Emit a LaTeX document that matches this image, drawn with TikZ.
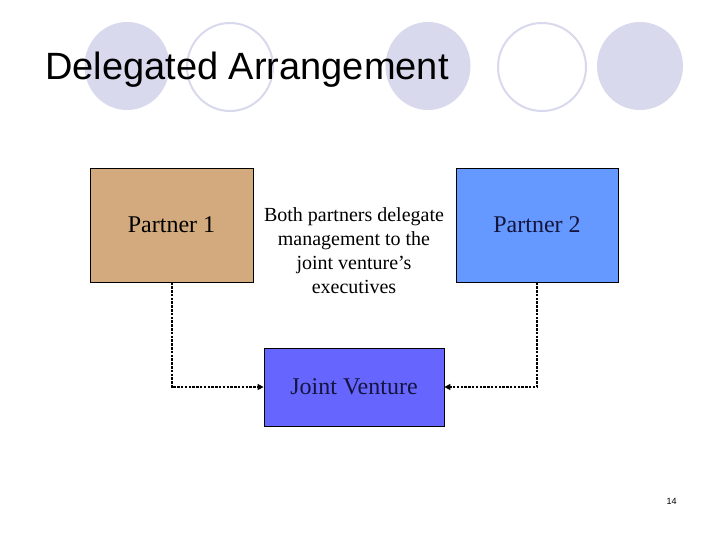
\documentclass[tikz,border=0pt]{standalone}
\usepackage{fontspec}
\setmainfont{Liberation Serif}
\newfontfamily\arialfont{Liberation Sans}
\usetikzlibrary{arrows.meta}
\definecolor{lav}{RGB}{217,217,238}
\definecolor{tan}{RGB}{210,170,125}
\definecolor{ptwo}{RGB}{102,153,255}
\definecolor{jvblue}{RGB}{102,102,255}
\definecolor{navy}{RGB}{20,20,60}
\tikzset{
  deco/.style={fill=lav, draw=none},
  decoring/.style={draw=lav, line width=2pt, fill=white},
  partnerbox/.style={draw=black, line width=0.8pt, minimum width=163pt, minimum height=114pt, inner sep=0pt, font=\fontsize{24}{28}\selectfont},
  jvbox/.style={draw=black, line width=0.8pt, minimum width=180pt, minimum height=78pt, inner sep=0pt, font=\fontsize{24}{28}\selectfont, text=navy},
  link/.style={line width=2pt, dash pattern=on 2.5pt off 1.3pt, -{Triangle[length=6pt,width=6pt]}}
}
\begin{document}
\begin{tikzpicture}[x=1pt,y=-1pt]
\fill[white] (0,0) rectangle (720,540);
\useasboundingbox (0,0) rectangle (720,540);
% decorative circles
\fill[deco] (127,66) ellipse [x radius=42.5, y radius=44];
\draw[decoring] (230,67) ellipse [x radius=43, y radius=44];
\fill[deco] (428,66) ellipse [x radius=42.5, y radius=44];
\draw[decoring] (542,67) ellipse [x radius=44, y radius=44];
\fill[deco] (640,66) ellipse [x radius=43, y radius=44];
% title
\node[anchor=base west, inner sep=0pt, font=\arialfont\fontsize{38}{42}\selectfont] (title) at (45,80) {Delegated Arrangement};
% boxes
\node[partnerbox, fill=tan] (p1) at (171.5,225) {Partner 1};
\node[partnerbox, fill=ptwo, minimum width=162pt, text=navy] (p2) at (537,225) {Partner 2};
\node[jvbox, fill=jvblue] (jv) at (354,387) {Joint Venture};
\node[align=center, inner sep=0pt, font=\fontsize{20}{24}\selectfont] (desc) at (354,251) {Both partners delegate\\management to the\\joint venture’s\\executives};
% connectors
\draw[link] (p1.south) |- (jv.west);
\draw[link] (p2.south) |- (jv.east);
% page number
\node[inner sep=0pt, font=\arialfont\fontsize{9}{10}\selectfont] (pnum) at (671.5,501) {14};
\end{tikzpicture}
\end{document}
